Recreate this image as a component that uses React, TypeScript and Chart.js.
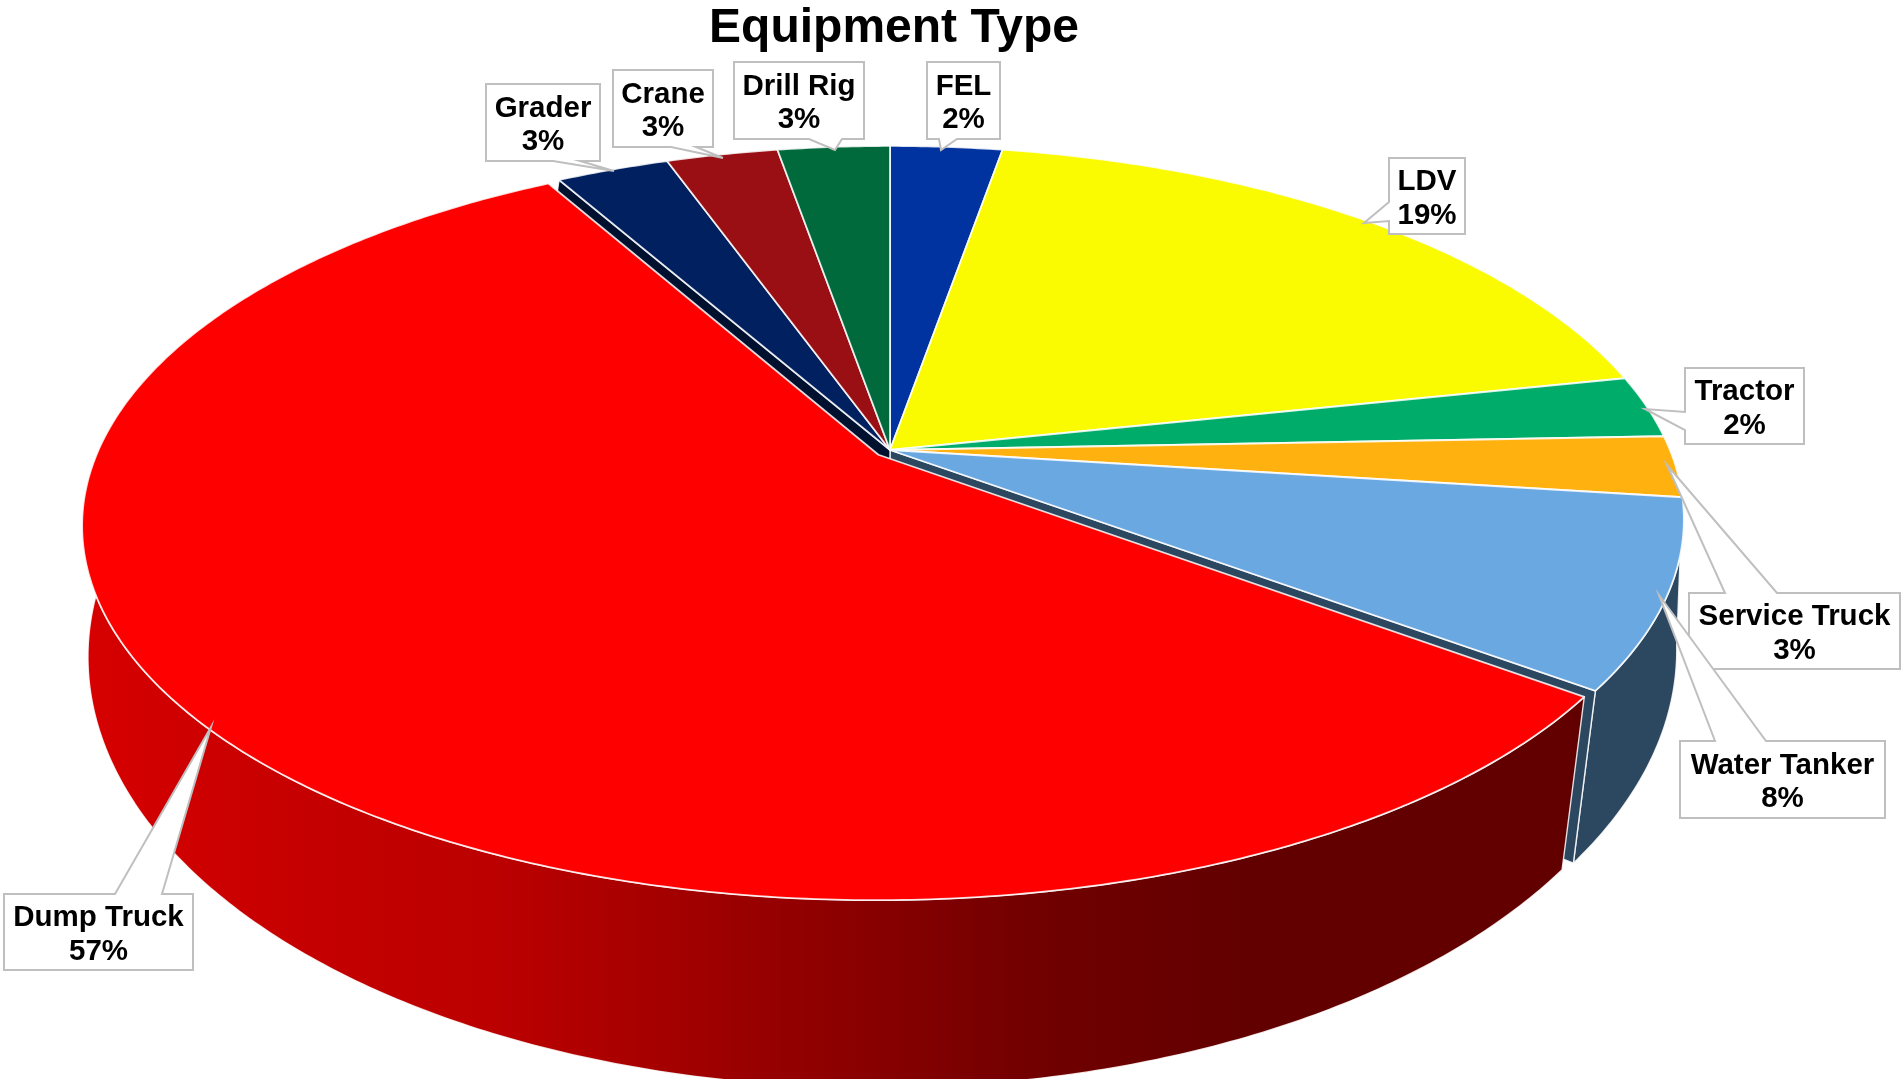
import React, { useEffect, useRef } from "react";
import { Chart, PieController, ArcElement, Title } from "chart.js";

// ---- data ----
const categories = ["FEL", "LDV", "Tractor", "Service Truck", "Water Tanker", "Dump Truck", "Grader", "Crane", "Drill Rig"];
const shareValues = [2.73, 18.95, 2.7, 2.65, 8.08, 56.65, 2.75, 2.72, 2.73];
const shareLabels = ["2%", "19%", "2%", "3%", "8%", "57%", "3%", "3%", "3%"];
const topColors = ["#0033A0", "#FAFA00", "#00AC69", "#FFB20F", "#6AA8E2", "#FF0000", "#002060", "#990F14", "#006A3C"];
const wallColors = ["#001F60", "#969600", "#00673F", "#996B09", "#2C4760", "#800000", "#00102F", "#5C090C", "#004024"];
const sliceOffsets = [0, 0, 0, 0, 0, 10, 0, 0, 0];

// ---- view of the pie (perspective of the top and bottom disc) ----
const TOP_PLANE = { x0: 890, y0: 450, a: 360.6, b: 780, k: 0.186 };
const BOTTOM_PLANE = { x0: 889, y0: 590, a: 421.6, b: 780, k: 0.14 };
const DUMP_WALL_STOPS: [number, string][] = [
  [90, "#D60000"], [320, "#C40000"], [500, "#BB0000"], [800, "#920000"], [1050, "#700000"], [1250, "#620000"], [1600, "#620000"],
];

// ---- callout layout: box [left, top, right, bottom], tail [base1, base2, tip] ----
type Pt = [number, number];
const calloutLayout: { box: number[]; tail: Pt[] }[] = [
  { box: [927, 62, 1000, 139], tail: [[939, 139], [957, 139], [941, 150]] },
  { box: [1389, 158, 1465, 234], tail: [[1389, 202], [1389, 221], [1364, 223]] },
  { box: [1685, 368, 1804, 444], tail: [[1685, 412], [1685, 430], [1645, 409]] },
  { box: [1689, 593, 1900, 669], tail: [[1725, 593], [1777, 593], [1667, 465]] },
  { box: [1680, 741, 1885, 818], tail: [[1715, 741], [1766, 741], [1659, 595]] },
  { box: [4, 894, 193, 970], tail: [[115, 894], [162, 894], [211, 727]] },
  { box: [486, 84, 600, 161], tail: [[553, 161], [580, 161], [614, 171]] },
  { box: [613, 70, 713, 147], tail: [[671, 147], [696, 147], [723, 158]] },
  { box: [734, 62, 864, 139], tail: [[809, 139], [842, 139], [835, 150]] },
];

function project(plane: typeof TOP_PLANE, angle: number, radius: number, du: number, dv: number): Pt {
  const u = radius * Math.cos(angle) + du;
  const v = radius * Math.sin(angle) + dv;
  const w = 1 - plane.k * v;
  return [plane.x0 + (plane.b * u) / w, plane.y0 + (plane.a * v) / w];
}

class PerspectiveArc extends ArcElement {
  static id = "perspectiveArc";
  static defaults = {};

  shift(): [number, number] {
    const { startAngle, endAngle, outerRadius, options } = this as any;
    const d = (options.offset || 0) / outerRadius;
    const mid = (startAngle + endAngle) / 2;
    return [d * Math.cos(mid), d * Math.sin(mid)];
  }

  rim(plane: typeof TOP_PLANE): Pt[] {
    const { startAngle, endAngle } = this as any;
    const [du, dv] = this.shift();
    const n = Math.max(8, Math.ceil((endAngle - startAngle) / 0.01));
    const pts: Pt[] = [];
    for (let i = 0; i <= n; i++) {
      pts.push(project(plane, startAngle + ((endAngle - startAngle) * i) / n, 1, du, dv));
    }
    return pts;
  }

  trace(ctx: CanvasRenderingContext2D, pts: Pt[]) {
    ctx.beginPath();
    pts.forEach((p, i) => (i ? ctx.lineTo(p[0], p[1]) : ctx.moveTo(p[0], p[1])));
    ctx.closePath();
  }

  drawOuterWall(ctx: CanvasRenderingContext2D, fill: string | CanvasGradient) {
    const pts = [...this.rim(TOP_PLANE), ...this.rim(BOTTOM_PLANE).reverse()];
    this.trace(ctx, pts);
    ctx.fillStyle = fill;
    ctx.fill();
    ctx.strokeStyle = "rgba(255,255,255,0.85)";
    ctx.lineWidth = 1.4;
    ctx.stroke();
  }

  drawRadialWall(ctx: CanvasRenderingContext2D, angle: number, fill: string) {
    const [du, dv] = this.shift();
    const pts = [
      project(TOP_PLANE, angle, 0, du, dv),
      project(TOP_PLANE, angle, 1, du, dv),
      project(BOTTOM_PLANE, angle, 1, du, dv),
      project(BOTTOM_PLANE, angle, 0, du, dv),
    ];
    this.trace(ctx, pts);
    ctx.fillStyle = fill;
    ctx.fill();
    ctx.strokeStyle = "rgba(255,255,255,0.85)";
    ctx.lineWidth = 1.4;
    ctx.stroke();
  }

  draw(ctx: CanvasRenderingContext2D) {
    const { options } = this as any;
    const [du, dv] = this.shift();
    this.trace(ctx, [project(TOP_PLANE, 0, 0, du, dv), ...this.rim(TOP_PLANE)]);
    ctx.fillStyle = options.backgroundColor;
    ctx.fill();
    ctx.strokeStyle = options.borderColor;
    ctx.lineWidth = options.borderWidth;
    ctx.lineJoin = "round";
    ctx.stroke();
  }
}

class PerspectivePie extends PieController {
  static id = "perspectivePie";
  static defaults = { dataElementType: "perspectiveArc" };

  draw() {
    const ctx = this.chart.ctx;
    const els = this.getMeta().data as any[];
    const isOut = (e: any) => (e.options.offset || 0) > 0;
    const at = (i: number) => els[(i + els.length) % els.length];
    ctx.save();
    els.forEach((e, i) => {
      if (!isOut(e)) e.drawOuterWall(ctx, wallColors[i]);
    });
    els.forEach((e, i) => {
      if (isOut(e)) return;
      if (isOut(at(i + 1))) e.drawRadialWall(ctx, e.endAngle, wallColors[i]);
      if (isOut(at(i - 1))) e.drawRadialWall(ctx, e.startAngle, wallColors[i]);
    });
    els.forEach((e) => {
      if (!isOut(e)) e.draw(ctx);
    });
    els.forEach((e) => {
      if (!isOut(e)) return;
      const g = ctx.createLinearGradient(DUMP_WALL_STOPS[0][0], 0, DUMP_WALL_STOPS[DUMP_WALL_STOPS.length - 1][0], 0);
      const span = DUMP_WALL_STOPS[DUMP_WALL_STOPS.length - 1][0] - DUMP_WALL_STOPS[0][0];
      DUMP_WALL_STOPS.forEach(([x, c]) => g.addColorStop((x - DUMP_WALL_STOPS[0][0]) / span, c));
      e.drawOuterWall(ctx, g);
      e.draw(ctx);
    });
    ctx.restore();
  }
}

const calloutPlugin = {
  id: "callouts",
  afterDatasetsDraw(chart: any) {
    const ctx: CanvasRenderingContext2D = chart.ctx;
    const names: string[] = chart.data.labels;
    ctx.save();
    ctx.lineJoin = "miter";
    calloutLayout.forEach(({ box, tail }, i) => {
      const [l, t, r, b] = box;
      const [p, q, tip] = tail;
      // outline: walk round the box and insert the tail on the edge that holds it
      const corners: Pt[] = [[l, t], [r, t], [r, b], [l, b]];
      const path: Pt[] = [];
      const onEdge = (k: number, pt: Pt) =>
        k === 0 ? pt[1] === t : k === 1 ? pt[0] === r : k === 2 ? pt[1] === b : pt[0] === l;
      corners.forEach((c, k) => {
        path.push(c);
        if (onEdge(k, p)) {
          const forward = k === 0 || k === 1;
          const val = (pt: Pt) => (k === 0 || k === 2 ? pt[0] : pt[1]);
          const asc = val(p) < val(q) ? [p, q] : [q, p];
          const seq = forward ? asc : [asc[1], asc[0]];
          path.push(seq[0], tip, seq[1]);
        }
      });
      ctx.beginPath();
      path.forEach((pt, n) => (n ? ctx.lineTo(pt[0], pt[1]) : ctx.moveTo(pt[0], pt[1])));
      ctx.closePath();
      ctx.fillStyle = "#FFFFFF";
      ctx.fill();
      ctx.strokeStyle = "#BFBFBF";
      ctx.lineWidth = 2;
      ctx.stroke();

      ctx.fillStyle = "#000000";
      ctx.font = 'bold 29.5px "Liberation Sans"';
      ctx.textAlign = "center";
      ctx.textBaseline = "middle";
      const cx = (l + r) / 2;
      const cy = (t + b) / 2;
      ctx.fillText(names[i], cx, cy - 14);
      ctx.fillText(shareLabels[i], cx, cy + 19.5);
    });
    ctx.restore();
  },
};

Chart.register(PerspectivePie, PerspectiveArc, Title);

export default function App() {
  const ref = useRef<HTMLCanvasElement>(null);
  useEffect(() => {
    const chart = new Chart(ref.current as HTMLCanvasElement, {
      type: "perspectivePie" as any,
      data: {
        labels: categories,
        datasets: [
          {
            data: shareValues,
            backgroundColor: topColors,
            borderColor: "rgba(255,255,255,0.85)",
            borderWidth: 1.8,
            offset: sliceOffsets,
          } as any,
        ],
      },
      options: {
        responsive: false,
        animation: false,
        layout: { padding: { right: 116 } },
        plugins: {
          legend: { display: false },
          tooltip: { enabled: false },
          title: {
            display: true,
            text: "Equipment Type",
            color: "#000000",
            fullSize: false,
            padding: 0,
            font: { family: '"Liberation Sans"', size: 48, weight: "bold", lineHeight: 1.2 },
          },
        },
      } as any,
      plugins: [calloutPlugin],
    });
    return () => chart.destroy();
  }, []);
  return (
    <canvas
      ref={ref}
      width={1904}
      height={1079}
      style={{ position: "fixed", left: 0, top: 0, display: "block", width: 1904, height: 1079 }}
    />
  );
}
